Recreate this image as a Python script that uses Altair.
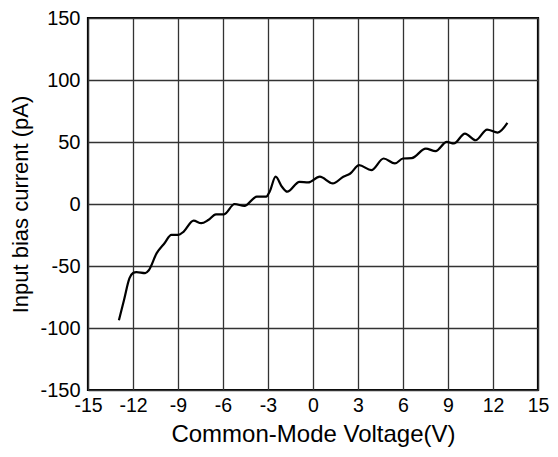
import altair as alt
import pandas as pd

voltage = [-12.94, -12.59, -12.24, -12.0, -11.77, -11.19, -10.96, -10.42, -9.9, -9.44,
           -8.97, -8.62, -7.96, -7.45, -6.98, -6.47, -5.93, -5.23, -4.57, -3.75,
           -3.12, -2.89, -2.49, -2.07, -1.72, -0.9, -0.32, 0.45, 1.32, 2.02,
           2.49, 3.07, 3.89, 4.71, 5.46, 6.0, 6.58, 7.52, 8.17, 8.92,
           9.39, 10.13, 10.84, 11.61, 12.31, 12.96]
current = [-93.8, -77.0, -60.0, -55.7, -54.9, -55.7, -53.6, -39.6, -31.6, -24.9,
           -24.9, -22.2, -13.4, -15.5, -12.9, -8.3, -8.3, 0.0, -1.6, 5.9,
           5.9, 9.9, 22.0, 13.9, 9.9, 17.9, 17.4, 22.0, 16.6, 22.0,
           24.6, 31.3, 27.3, 36.7, 32.7, 36.7, 37.0, 44.7, 42.6, 50.1,
           48.8, 56.8, 51.4, 60.0, 57.6, 65.4]

x_ticks = [-15, -12, -9, -6, -3, 0, 3, 6, 9, 12, 15]
y_ticks = [-150, -100, -50, 0, 50, 100, 150]

df = pd.DataFrame({"v": voltage, "i": current})

chart = alt.Chart(df).mark_line(
    color="black", strokeWidth=2.2, interpolate="monotone"
).encode(
    x=alt.X("v:Q", scale=alt.Scale(domain=[-15, 15], nice=False),
            axis=alt.Axis(values=x_ticks, title="Common-Mode Voltage(V)",
                          labelExpr="'' + datum.value", labelFlush=False,
                          labelFontSize=19.5,
                          labelPadding=6, titlePadding=8, titleFontSize=24)),
    y=alt.Y("i:Q", scale=alt.Scale(domain=[-150, 150], nice=False),
            axis=alt.Axis(values=y_ticks, title="Input bias current (pA)",
                          labelExpr="'' + datum.value", labelFlush=False,
                          labelPadding=8, titlePadding=7, titleFontSize=22)),
).properties(
    width=450, height=372,
    autosize=alt.AutoSizeParams(type="none"),
    padding={"left": 80, "top": 10, "right": 12, "bottom": 59},
).configure_axis(
    labelFont="Liberation Sans", titleFont="Liberation Sans",
    labelFontSize=20, labelColor="black", titleColor="black",
    titleFontWeight="normal", ticks=False,
    grid=True, gridColor="#333333", gridWidth=1.3, gridOpacity=1,
    domain=False,
).configure_view(
    stroke="black", strokeWidth=2.2
)

chart.save("out.html", embed_options={"renderer": "svg", "actions": False})
